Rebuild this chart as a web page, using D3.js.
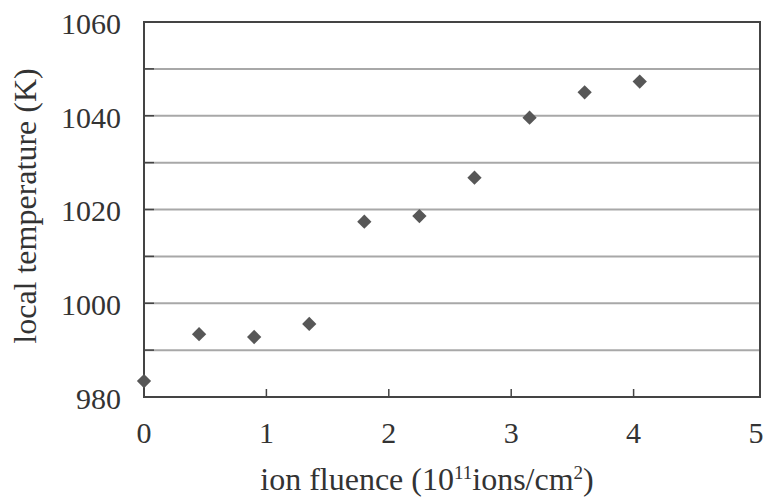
<!DOCTYPE html>
<html>
<head>
<meta charset="utf-8">
<script src="https://cdn.jsdelivr.net/npm/d3@7"></script>
<style>
  body { margin: 0; background: #fff; }
  text { font-family: "Liberation Serif", "Times New Roman", serif; fill: #333; }
</style>
</head>
<body>
<svg id="chart" width="778" height="497"></svg>
<script>
// ion fluence (10^11 ions/cm2) and local temperature (K)
const fluence = [0, 0.45, 0.9, 1.35, 1.8, 2.25, 2.7, 3.15, 3.6, 4.05]
const temperature = [983.4, 993.4, 992.8, 995.6, 1017.4, 1018.6, 1026.8, 1039.6, 1045.0, 1047.3]

const xTicks = [0, 1, 2, 3, 4, 5]
const yLabelTicks = [980, 1000, 1020, 1040, 1060]
const yGridTicks = [990, 1000, 1010, 1020, 1030, 1040, 1050]

const margin = {left: 144, top: 22, right: 22, bottom: 100}
const width = 778, height = 497

const svg = d3.select('#chart')

var x = d3.scaleLinear().domain([0, 5]).range([margin.left, 756])
var y = d3.scaleLinear().domain([980, 1060]).range([397, margin.top])

// gridlines
svg.append('g').selectAll('line')
  .data(yGridTicks)
  .enter().append('line')
  .attr('x1', x(0)).attr('x2', 760)
  .attr('y1', d => y(d)).attr('y2', d => y(d))
  .attr('stroke', '#a8a8a8')
  .attr('stroke-width', 2)

// short inner ticks on y axis
svg.append('g').selectAll('line')
  .data(yGridTicks)
  .enter().append('line')
  .attr('x1', x(0)).attr('x2', x(0) + 10)
  .attr('y1', d => y(d)).attr('y2', d => y(d))
  .attr('stroke', '#444')
  .attr('stroke-width', 1.5)

// x axis ticks pointing up
svg.append('g').selectAll('line')
  .data(xTicks.slice(1, 5))
  .enter().append('line')
  .attr('x1', d => x(d)).attr('x2', d => x(d))
  .attr('y1', y(980)).attr('y2', y(980) - 8)
  .attr('stroke', '#444')
  .attr('stroke-width', 1.5)

// frame
svg.append('rect')
  .attr('x', x(0)).attr('y', y(1060))
  .attr('width', 760 - x(0)).attr('height', y(980) - y(1060))
  .attr('fill', 'none')
  .attr('stroke', '#444')
  .attr('stroke-width', 2)

// tick labels
svg.append('g').selectAll('text')
  .data(yLabelTicks)
  .enter().append('text')
  .attr('x', 121).attr('y', d => y(d) + 5)
  .attr('text-anchor', 'end')
  .attr('dominant-baseline', 'middle')
  .style('font-size', '30px')
  .text(d => d)

svg.append('g').selectAll('text')
  .data(xTicks)
  .enter().append('text')
  .attr('x', d => x(d)).attr('y', 443)
  .attr('text-anchor', 'middle')
  .style('font-size', '30px')
  .text(d => d)

// axis titles
svg.append('text')
  .attr('transform', 'translate(36,' + 206 + ') rotate(-90)')
  .attr('text-anchor', 'middle')
  .style('font-size', '32px')
  .text('local temperature (K)')

var xt = svg.append('text')
  .attr('x', 427).attr('y', 490)
  .attr('text-anchor', 'middle')
  .style('font-size', '32px')
xt.append('tspan').text('ion fluence (10')
xt.append('tspan').attr('dy', -11).style('font-size', '19px').text('11')
xt.append('tspan').attr('dy', 11).text('ions/cm')
xt.append('tspan').attr('dy', -11).style('font-size', '19px').text('2')
xt.append('tspan').attr('dy', 11).text(')')

// data markers
var points = fluence.map((f, i) => [f, temperature[i]])
svg.append('g').selectAll('path')
  .data(points)
  .enter().append('path')
  .attr('d', d3.symbol().type(d3.symbolDiamond2).size(130))
  .attr('transform', d => 'translate(' + x(d[0]) + ',' + y(d[1]) + ')')
  .attr('fill', '#575757')
</script>
</body>
</html>
